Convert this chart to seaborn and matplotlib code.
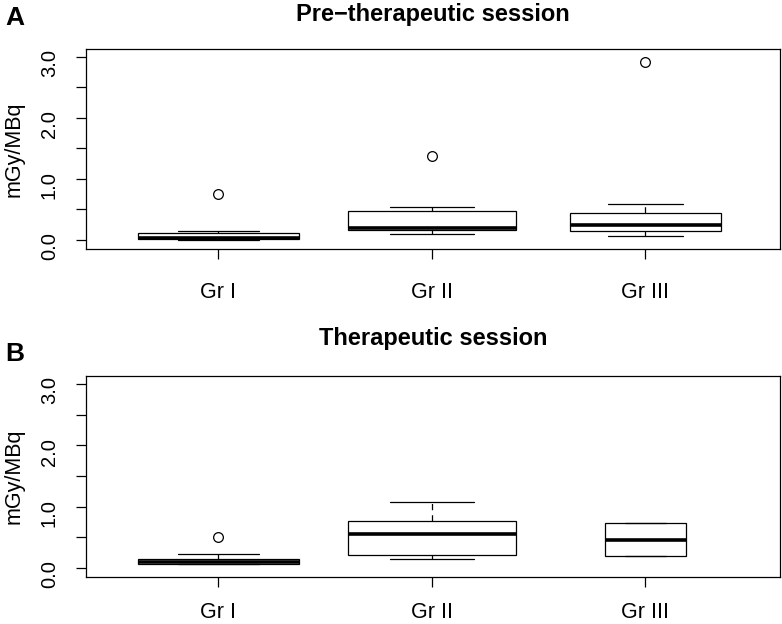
import numpy as np
import pandas as pd
import matplotlib
matplotlib.use("Agg")
import matplotlib.pyplot as plt
import seaborn as sns

sns.set_style("white")
plt.rcParams["font.family"] = ["Liberation Sans", "DejaVu Sans"]
plt.rcParams.update({"text.color": "black", "axes.labelcolor": "black",
                     "xtick.color": "black", "ytick.color": "black"})

groups = ["Gr I", "Gr II", "Gr III"]

# five-number summaries (mGy/MBq)
pre_low = [0.00, 0.10, 0.06]
pre_q1 = [0.01, 0.17, 0.15]
pre_med = [0.03, 0.19, 0.25]
pre_q3 = [0.12, 0.48, 0.44]
pre_high = [0.15, 0.54, 0.59]
pre_out = [[0.75], [1.38], [2.91]]
pre_width = [0.754, 0.79, 0.707]

ther_low = [0.06, 0.14, 0.19]
ther_q1 = [0.07, 0.21, 0.19]
ther_med = [0.10, 0.55, 0.46]
ther_q3 = [0.15, 0.77, 0.74]
ther_high = [0.22, 1.08, 0.74]
ther_out = [[0.51], [], []]
ther_width = [0.754, 0.79, 0.378]


def expand(lo, q1, med, q3, hi, out):
    # 9 sorted values whose linear quartiles hit q1 / med / q3
    vals = [lo, q1, q1, med, med, q3, q3, hi]
    vals += out if out else [hi]
    return vals


def build(low, q1, med, q3, high, out):
    rows = []
    for i, g in enumerate(groups):
        for v in expand(low[i], q1[i], med[i], q3[i], high[i], out[i]):
            rows.append({"group": g, "value": v})
    return pd.DataFrame(rows)


pre_df = build(pre_low, pre_q1, pre_med, pre_q3, pre_high, pre_out)
ther_df = build(ther_low, ther_q1, ther_med, ther_q3, ther_high, ther_out)

fig = plt.figure(figsize=(7.82, 6.24), dpi=100)
ax_a = fig.add_axes([86 / 782, 1 - 249 / 624, 694 / 782, 200 / 624])
ax_b = fig.add_axes([86 / 782, 1 - 577 / 624, 694 / 782, 201 / 624])


def draw(ax, df, widths, title, letter, title_y, letter_y, xpad):
    for g, w in zip(groups, widths):
        sns.boxplot(
            data=df[df["group"] == g], x="group", y="value", order=groups,
            width=w, color="white", saturation=1, linecolor="black",
            linewidth=0.9, whis=1.5, ax=ax,
            medianprops=dict(linewidth=2.6, color="black"),
            whiskerprops=dict(linestyle=(0, (5, 4)), color="black"),
            capprops=dict(color="black"),
            flierprops=dict(marker="o", markerfacecolor="none",
                            markeredgecolor="black", markersize=7,
                            markeredgewidth=0.9),
        )
    ax.set_xlim(-0.62, 2.63)
    ax.set_ylim(-0.148, 3.13)
    ax.set_yticks(np.arange(0, 3.01, 0.5))
    ax.set_yticklabels(["0.0", "", "1.0", "", "2.0", "", "3.0"])
    ax.set_xticks(range(3))
    ax.set_xticklabels(groups)
    ax.set_xlabel("")
    ax.set_ylabel("mGy/MBq", fontsize=15.5)
    ax.yaxis.set_label_coords(-0.088, 0.5)
    ax.tick_params(axis="y", labelrotation=90, length=7, width=0.9,
                   labelsize=14.5, pad=12.5, direction="out", left=True)
    ax.tick_params(axis="x", length=7.5, width=0.9, labelsize=15.5,
                   pad=xpad, direction="out", bottom=True)
    for s in ax.spines.values():
        s.set_visible(True)
        s.set_color("black")
        s.set_linewidth(0.9)
    fig.text((86 + 780) / 2 / 782, 1 - title_y / 624, title, ha="center",
             va="center", fontsize=17, fontweight="bold")
    fig.text(15 / 782, 1 - letter_y / 624, letter, ha="center", va="center",
             fontsize=19, fontweight="bold")


draw(ax_a, pre_df, pre_width, "Pre\u2212therapeutic session", "A", 14, 18, 16)
draw(ax_b, ther_df, ther_width, "Therapeutic session", "B", 338, 354, 10.5)

fig.savefig("out.png", dpi=100)
